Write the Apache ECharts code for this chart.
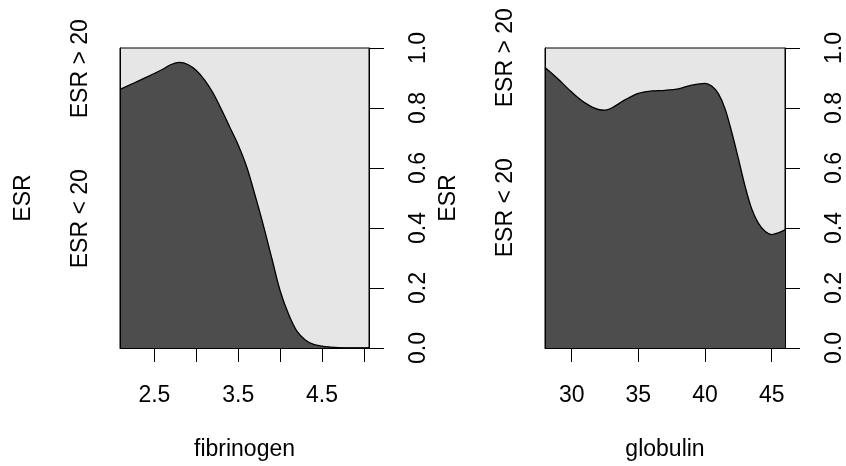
<!DOCTYPE html>
<html>
<head>
<meta charset="utf-8">
<script src="https://cdn.jsdelivr.net/npm/echarts@6/dist/echarts.min.js"></script>
<style>
html,body{margin:0;padding:0;background:#fff;}
#c{width:846px;height:466px;}
</style>
</head>
<body>
<div id="c"></div>
<script>
// ---- data ----
const fibX = [2.09,2.2,2.3,2.4,2.5,2.6,2.7,2.8,2.9,3.0,3.1,3.2,3.3,3.4,3.5,3.6,3.7,3.8,3.9,4.0,4.1,4.2,4.3,4.4,4.5,4.6,4.7,4.8,5.06];
const fibP = [0.862,0.876,0.889,0.902,0.915,0.929,0.945,0.952,0.945,0.925,0.893,0.850,0.795,0.736,0.677,0.605,0.510,0.409,0.300,0.191,0.113,0.056,0.027,0.012,0.006,0.003,0.001,0.0,0.0];
const gloX = [28,29,30,31,32,32.5,33,34,35,36,37,38,39,40,40.5,41,41.5,42,42.5,43,43.5,44,44.5,45,45.5,46];
const gloP = [0.935,0.896,0.853,0.817,0.795,0.793,0.800,0.827,0.849,0.857,0.859,0.864,0.876,0.882,0.873,0.848,0.798,0.720,0.632,0.540,0.464,0.416,0.389,0.378,0.384,0.394];
const fibTicks = [2.5,3.0,3.5,4.0,4.5,5.0];
const fibTickLabels = [2.5,3.5,4.5];
const gloTicks = [30,35,40,45];
const gloTickLabels = [30,35,40,45];
const yTicks = [0,0.2,0.4,0.6,0.8,1.0];
const levels = ['ESR < 20','ESR > 20'];
const fibRange = [2.09,5.06];
const gloRange = [28,46];

const FONT = '"Liberation Sans", Arial, Helvetica, sans-serif';
const FS = 23;
const DARK = '#4D4D4D', LIGHT = '#E6E6E6';

function pairs(xs, ys){ return xs.map((x,i)=>[x, ys[i]]); }

const chart = echarts.init(document.getElementById('c'), null, {renderer:'canvas'});

function grid(left){
  return {left:left, top:48, width:249, height:305, show:true, backgroundColor:LIGHT,
          borderColor:'#000', borderWidth:1, containLabel:false};
}
function xAxis(gi, range, ticks, labels, name){
  return {type:'value', gridIndex:gi, min:range[0], max:range[1], z:5,
    name:name, nameLocation:'middle', nameGap:90,
    nameTextStyle:{fontFamily:FONT, fontSize:FS, color:'#000'},
    axisLine:{show:true, onZero:false, lineStyle:{color:'#000', width:1}},
    axisTick:{show:true, customValues:ticks, length:14, lineStyle:{color:'#000', width:1}},
    axisLabel:{show:true, customValues:labels, margin:36, fontFamily:FONT, fontSize:FS, color:'#000',
      formatter:v=>String(v)},
    splitLine:{show:false}};
}
function yRight(gi){
  return {type:'value', gridIndex:gi, position:'right', min:0, max:1, z:5,
    axisLine:{show:true, lineStyle:{color:'#000', width:1}},
    axisTick:{show:true, customValues:yTicks, length:15, lineStyle:{color:'#000', width:1}},
    axisLabel:{show:true, customValues:yTicks, rotate:90, margin:38, fontFamily:FONT, fontSize:FS, color:'#000',
      formatter:v=>v.toFixed(1)},
    splitLine:{show:false}};
}
function yLeft(gi, p0){
  return {type:'value', gridIndex:gi, position:'left', min:0, max:1, z:5,
    name:'ESR', nameLocation:'middle', nameGap:85, nameRotate:90,
    nameTextStyle:{fontFamily:FONT, fontSize:FS, color:'#000'},
    axisLine:{show:true, lineStyle:{color:'#000', width:1}},
    axisTick:{show:false},
    axisLabel:{show:true, customValues:[p0/2, (1+p0)/2], rotate:90, margin:28, fontFamily:FONT, fontSize:FS, color:'#000',
      formatter:v=> v < p0 ? levels[0] : levels[1]},
    splitLine:{show:false}};
}
function series(xi, yi, data){
  return {type:'line', xAxisIndex:xi, yAxisIndex:yi, data:data, showSymbol:false, symbol:'none',
    smooth:0.35, clip:true, animation:false,
    lineStyle:{color:'#000', width:1.3},
    areaStyle:{color:DARK, opacity:1, origin:'start'}};
}

chart.setOption({
  animation:false,
  backgroundColor:'#fff',
  grid:[grid(120), grid(545)],
  xAxis:[xAxis(0, fibRange, fibTicks, fibTickLabels, 'fibrinogen'),
         xAxis(1, gloRange, gloTicks, gloTickLabels, 'globulin')],
  yAxis:[yRight(0), yLeft(0, fibP[0]), yRight(1), yLeft(1, gloP[0])],
  series:[series(0, 0, pairs(fibX, fibP)), series(1, 2, pairs(gloX, gloP))]
});
</script>
</body>
</html>
